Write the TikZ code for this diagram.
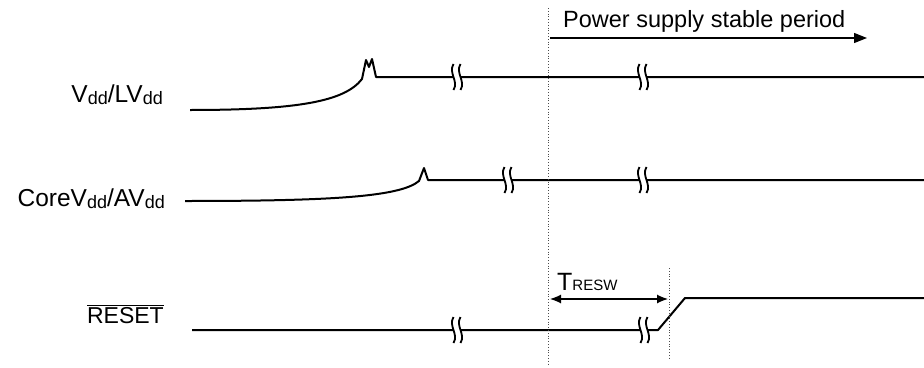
\documentclass[tikz,border=0pt]{standalone}
\usepackage{fontspec}
\setmainfont{Liberation Sans}
\usetikzlibrary{arrows.meta,positioning,calc}

\newcommand{\sub}[1]{\raisebox{-2.5pt}{\fontsize{18}{18}\selectfont #1}}

\tikzset{
  sig/.style={line width=2pt, line join=round},
  guide/.style={dotted, line width=0.8pt, black!70},
  lbl/.style={font=\fontsize{24.5}{28}\selectfont, anchor=base east, inner sep=0pt},
  brk/.pic={
    \fill[white] (-3.5,-13) .. controls (-9,-4) and (2,4) .. (-3.5,13) -- (3.5,13) .. controls (9,4) and (-2,-4) .. (3.5,-13) -- cycle;
    \draw[line width=1.8pt] (-3.5,-13) .. controls (-9,-4) and (2,4) .. (-3.5,13);
    \draw[line width=1.8pt] (3.5,-13) .. controls (-2,-4) and (9,4) .. (3.5,13);
  }
}

\begin{document}
\begin{tikzpicture}[x=1pt, y=-1pt]
  \useasboundingbox (0,0) rectangle (924,367);

  % signal names
  \node[lbl] (vddlbl) at (163,102) {V\sub{dd}/LV\sub{dd}};
  \node[lbl] (corelbl) at (165,206) {CoreV\sub{dd}/AV\sub{dd}};
  \node[lbl, font=\fontsize{23}{28}\selectfont] (rstlbl) at (164,323) {$\overline{\mbox{RESET}}$};

  % Vdd/LVdd
  \coordinate (vddlow) at (190,110);
  \coordinate (vddrise) at (362,79);
  \coordinate (vddend) at (924,77);
  \draw[sig] (vddlow) .. controls (300,110) and (345,101) .. (vddrise)
    -- (366,60) -- (369,67) -- (372,59) -- (376,77) -- (vddend);
  \pic at (457,77) {brk};
  \pic at (643,77) {brk};

  % CoreVdd/AVdd
  \coordinate (corelow) at (185,201);
  \coordinate (corerise) at (419,181);
  \coordinate (coreend) at (924,180);
  \draw[sig] (corelow) .. controls (330,201) and (400,197) .. (corerise)
    -- (424,168) -- (428,180) -- (coreend);
  \pic at (508,180) {brk};
  \pic at (643,180) {brk};

  % RESET
  \coordinate (rstlow) at (192,330);
  \coordinate (rstramp) at (658,330);
  \coordinate (rsthigh) at (685,298);
  \coordinate (rstend) at (924,298);
  \draw[sig] (rstlow) -- (rstramp) -- (rsthigh) -- (rstend);
  \pic at (457,330) {brk};
  \pic at (644,330) {brk};

  % timing guides
  \coordinate (stabletop) at (548,8);
  \coordinate (stablebot) at (548,366);
  \coordinate (resettop) at (669,268);
  \coordinate (resetbot) at (669,358);
  \draw[guide] (stabletop) -- (stablebot);
  \draw[guide] (resettop) -- (resetbot);

  % stable period arrow
  \coordinate (pwrstart) at (550,38);
  \coordinate (pwrend) at (867,38);
  \draw[line width=1.2pt, -{Triangle[length=13pt, width=10pt]}] (pwrstart) -- (pwrend);
  \node[font=\fontsize{23.5}{26}\selectfont, anchor=base west, inner sep=0pt] (pwrlbl) at (563,27) {Power supply stable period};

  % TRESW
  \coordinate (twstart) at (550,299);
  \coordinate (twend) at (668,299);
  \draw[line width=1.2pt, {Latex[length=11pt, width=9pt]}-{Latex[length=11pt, width=9pt]}] (twstart) -- (twend);
  \node[font=\fontsize{25}{28}\selectfont, anchor=base west, inner sep=0pt] (twlbl) at (557,290) {T{\fontsize{15}{15}\selectfont RESW}};
\end{tikzpicture}
\end{document}
